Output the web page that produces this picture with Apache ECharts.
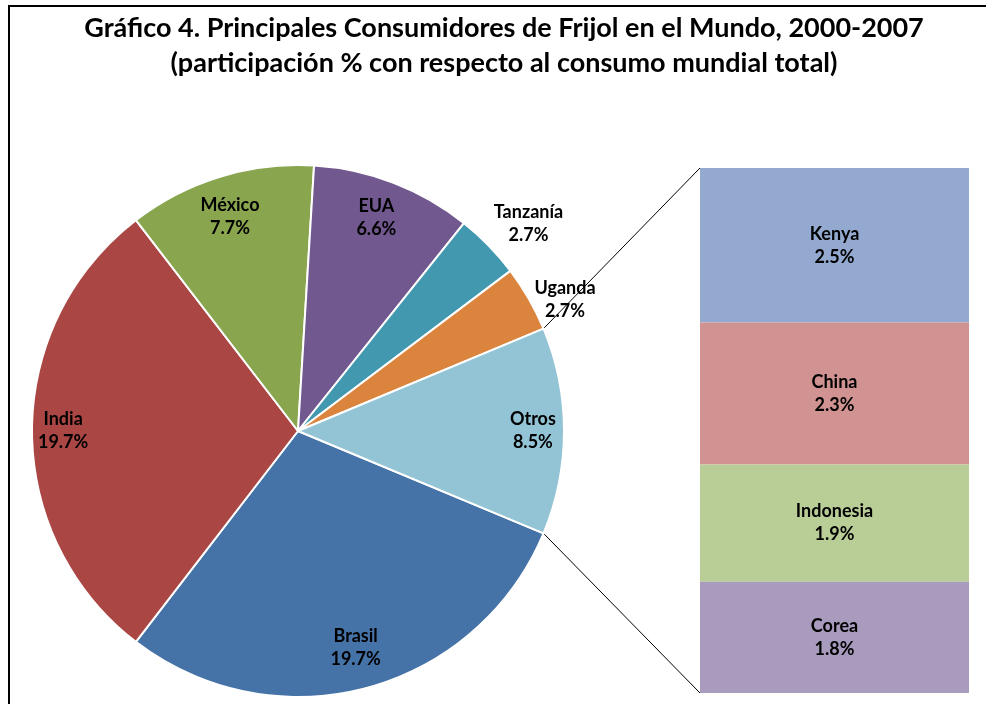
<!DOCTYPE html>
<html lang="es">
<head>
  <meta charset="UTF-8">
  <title>Principales Consumidores de Frijol en el Mundo</title>
  <script src="https://cdn.jsdelivr.net/npm/echarts@6/dist/echarts.min.js"></script>
  <style>
    body { margin: 0; background: #fff; }
    #chart { width: 986px; height: 704px; }
  </style>
</head>
<body>
  <div id="chart"></div>
  <script>
    // datos del pastel principal
    const paises = ['Brasil', 'India', 'México', 'EUA', 'Tanzanía', 'Uganda', 'Otros'];
    const participacion = [19.7, 19.7, 7.7, 6.6, 2.7, 2.7, 8.5];
    // desglose de "Otros" (barra de la derecha)
    const otrosPaises = ['Kenya', 'China', 'Indonesia', 'Corea'];
    const otrosParticipacion = [2.5, 2.3, 1.9, 1.8];

    const coloresPastel = ['#4572A7', '#AA4643', '#89A54E', '#71588F', '#4198AF', '#DB843D', '#93C4D5'];
    const coloresBarra = ['#93A9CF', '#D19392', '#B9CD96', '#A99BBD'];

    // ubicacion de etiquetas (fraccion del radio y ajuste de angulo), como en Excel "mejor ajuste"
    const radioEtiqueta = [0.842, 0.883, 0.844, 0.856, 1.166, 1.118, 0.883];
    const giroEtiqueta = [0, 0, 0.6, 0.9, -2.2, -3.7, 0];

    const fuente = 'Lato, "Open Sans", sans-serif';
    const cx = 298, cy = 431, r = 266;
    const barLeft = 700, barTop = 168, barW = 269, barH = 525;

    const total = participacion.reduce((a, b) => a + b, 0);
    const otrosIdx = paises.indexOf('Otros');
    const otrosSpan = participacion[otrosIdx] / total * 360;
    // "Otros" queda centrado sobre el eje horizontal, mirando a la barra
    const startAngle = -otrosSpan / 2;

    // angulo medio de cada rebanada (sentido horario desde startAngle)
    function anguloMedio(i) {
      let acc = 0;
      for (let k = 0; k < i; k++) acc += participacion[k];
      acc += participacion[i] / 2;
      return startAngle - acc / total * 360;
    }

    const rad = Math.PI / 180;
    const pA = [cx + r * Math.cos(otrosSpan / 2 * rad), cy - r * Math.sin(otrosSpan / 2 * rad)];
    const pB = [cx + r * Math.cos(-otrosSpan / 2 * rad), cy - r * Math.sin(-otrosSpan / 2 * rad)];

    const estiloEtiqueta = {
      color: '#000',
      fontFamily: fuente,
      fontWeight: 'bold',
      fontSize: 18,
      lineHeight: 23
    };

    const chart = echarts.init(document.getElementById('chart'));

    const barSeries = otrosPaises.map((nombre, i) => ({
      name: nombre,
      type: 'bar',
      stack: 'otros',
      data: [otrosParticipacion[i]],
      barWidth: '100%',
      itemStyle: { color: coloresBarra[i] },
      label: Object.assign({ show: true, position: 'inside', formatter: '{a}\n{c}%' }, estiloEtiqueta),
      silent: true
    }));

    chart.setOption({
      animation: false,
      title: {
        text: 'Gráfico 4. Principales Consumidores de Frijol en el Mundo, 2000-2007\n(participación % con respecto al consumo mundial total)',
        left: 499,
        top: 6,
        textAlign: 'center',
        textStyle: {
          fontFamily: fuente,
          fontWeight: 'bold',
          fontSize: 27,
          lineHeight: 35,
          color: '#000'
        }
      },
      grid: { left: barLeft, top: barTop, width: barW, height: barH },
      xAxis: { type: 'category', data: [''], show: false },
      yAxis: { type: 'value', inverse: true, min: 0, max: participacion[otrosIdx], show: false },
      graphic: [
        {
          type: 'rect',
          shape: { x: 9, y: 6, width: 1200, height: 1200 },
          style: { fill: null, stroke: '#000', lineWidth: 2 },
          silent: true
        },
        {
          type: 'line',
          shape: { x1: pA[0], y1: pA[1], x2: barLeft, y2: barTop },
          style: { stroke: '#000', lineWidth: 1 },
          silent: true
        },
        {
          type: 'line',
          shape: { x1: pB[0], y1: pB[1], x2: barLeft, y2: barTop + barH },
          style: { stroke: '#000', lineWidth: 1 },
          silent: true
        }
      ],
      series: [
        {
          type: 'pie',
          center: [cx, cy],
          radius: r,
          startAngle: startAngle,
          clockwise: true,
          data: paises.map((p, i) => ({ name: p, value: participacion[i], itemStyle: { color: coloresPastel[i] } })),
          itemStyle: { borderColor: '#fff', borderWidth: 2 },
          label: Object.assign({ show: true, position: 'inside', formatter: '{b}\n{c}%' }, estiloEtiqueta),
          labelLine: { show: false },
          labelLayout: function (p) {
            const i = p.dataIndex;
            const a = (anguloMedio(i) + giroEtiqueta[i]) * rad;
            const k = radioEtiqueta[i];
            return {
              x: cx + r * k * Math.cos(a),
              y: cy - r * k * Math.sin(a),
              align: 'center',
              verticalAlign: 'middle'
            };
          },
          emphasis: { disabled: true },
          silent: true
        }
      ].concat(barSeries)
    });
  </script>
</body>
</html>
